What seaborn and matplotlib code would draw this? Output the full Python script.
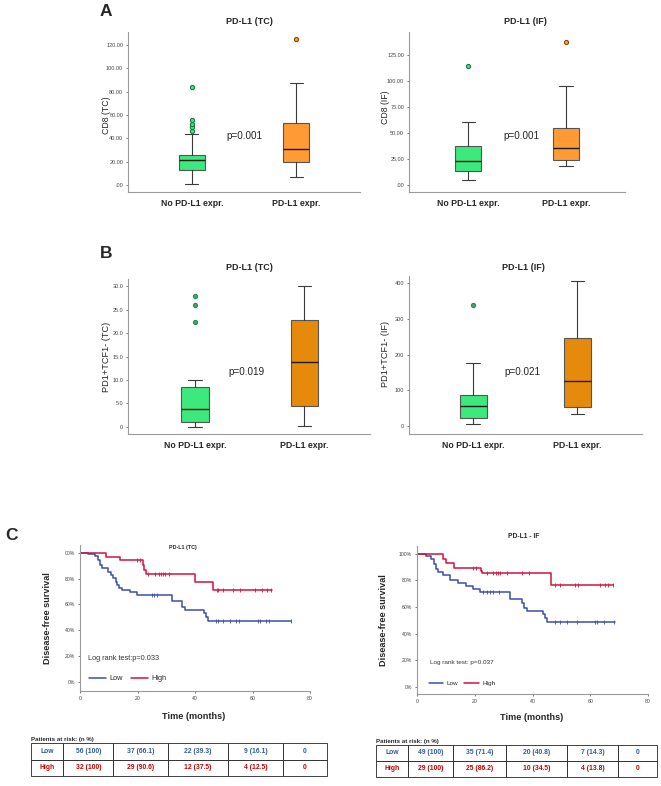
import numpy as np
import matplotlib
matplotlib.use("Agg")
import matplotlib.pyplot as plt
import seaborn as sns

# ==========================================
# THEME
# ==========================================
sns.set_theme(style="ticks")
plt.rcParams['font.family'] = ['Liberation Sans', 'DejaVu Sans']
plt.rcParams['axes.edgecolor'] = '#9A9A9A'
plt.rcParams['axes.linewidth'] = 0.8

GREEN = "#3DE87C"
ORANGE_A = "#FF9A35"
ORANGE_B = "#E68A0C"
BLUE = "#3A4FAE"
RED = "#D3123E"
TXT_BLUE = "#2F5C9B"
TXT_RED = "#C00000"

# ==========================================
# DATA
# ==========================================
groups = ["No PD-L1 expr.", "PD-L1 expr."]

# box stats: [whisker low, Q1, median, Q3, whisker high]
a_tc_stats = [[1.0, 13.0, 21.0, 25.4, 43.4], [7.0, 20.0, 30.9, 52.9, 87.4]]
a_tc_fliers = [[46.0, 49.5, 52.5, 55.5, 83.7], [124.9]]
a_if_stats = [[4.8, 13.1, 22.7, 37.2, 60.6], [18.0, 24.4, 35.3, 55.1, 95.2]]
a_if_fliers = [[114.1], [137.5]]
b_tc_stats = [[0.0, 0.9, 3.8, 8.5, 9.9], [0.2, 4.4, 13.9, 22.9, 30.2]]
b_tc_fliers = [[22.3, 26.0, 28.0], []]
b_if_stats = [[5.6, 22.5, 55.3, 87.0, 175.0], [33.7, 52.5, 124.7, 245.5, 406.0]]
b_if_fliers = [[340.0], []]

a_tc_yticks = [0, 20, 40, 60, 80, 100, 120]
a_tc_ylabels = [".00", "20.00", "40.00", "60.00", "80.00", "100.00", "120.00"]
a_if_yticks = [0, 25, 50, 75, 100, 125]
a_if_ylabels = [".00", "25.00", "50.00", "75.00", "100.00", "125.00"]
b_tc_yticks = [0, 5, 10, 15, 20, 25, 30]
b_tc_ylabels = ["0", "5.0", "10.0", "15.0", "20.0", "25.0", "30.0"]
b_if_yticks = [0, 100, 200, 300, 400]
b_if_ylabels = ["0", "100", "200", "300", "400"]

# Kaplan-Meier curves (months, % disease-free)
c_tc_low_time = [0, 2.9, 5.2, 6.1, 7.0, 7.8, 9.9, 10.8, 11.6, 12.4, 13.0, 13.7, 14.5, 17.4,
                 19.7, 31.9, 35.4, 36.5, 43.1, 43.8, 44.6, 73.4]
c_tc_low_surv = [100, 98.9, 97.4, 94.3, 90.5, 87.9, 85.3, 82.7, 80.1, 77.6, 75.0, 72.4, 71.1, 69.8,
                 67.6, 63.0, 58.2, 55.7, 53.5, 50.5, 47.4, 47.4]
c_tc_low_cens = [24.9, 25.7, 26.7, 47.3, 48.1, 49.9, 52.2, 54.1, 55.4, 62.0, 62.6, 64.6, 65.9, 73.4]
c_tc_high_time = [0, 9.0, 13.9, 21.8, 22.4, 22.8, 40.0, 46.1, 66.7]
c_tc_high_surv = [100, 96.9, 94.1, 90.5, 86.6, 83.2, 77.6, 70.9, 70.9]
c_tc_high_cens = [19.9, 20.9, 23.8, 26.1, 27.6, 28.2, 29.0, 29.6, 31.1,
                  47.5, 48.1, 49.9, 53.3, 55.7, 60.9, 63.2, 64.9, 66.4]

c_if_low_time = [0, 3.0, 5.0, 5.9, 6.7, 7.3, 9.0, 11.3, 14.2, 17.1, 19.4, 21.8, 32.2, 36.2,
                 37.0, 38.2, 43.8, 44.3, 44.9, 68.6]
c_if_low_surv = [100, 98.0, 95.8, 92.5, 88.8, 86.3, 83.8, 80.0, 78.1, 75.6, 73.8, 71.3, 66.3, 63.1,
                 59.4, 56.9, 54.4, 51.4, 48.4, 48.4]
c_if_low_cens = [22.7, 24.3, 25.2, 26.4, 28.5, 47.8, 49.5, 51.9, 55.3, 61.7, 62.3, 64.6, 68.1]
c_if_high_time = [0, 9.0, 10.2, 12.7, 22.3, 22.6, 46.3, 67.8]
c_if_high_surv = [100, 96.3, 93.0, 89.5, 87.0, 85.5, 76.8, 76.8]
c_if_high_cens = [19.4, 20.6, 24.1, 26.4, 27.5, 28.1, 28.7, 31.0, 36.2, 38.9,
                  47.8, 49.5, 54.7, 55.9, 63.4, 65.2, 66.3, 67.8]

km_xticks = [0, 20, 40, 60, 80]
km_yticks = [0, 20, 40, 60, 80, 100]
tc_km_ylabels = ["0%", "20%", "40%", "60%", "80%", "00%"]
if_km_ylabels = ["0%", "20%", "40%", "60%", "80%", "100%"]

tc_risk = [["Low", "56 (100)", "37 (66.1)", "22 (39.3)", "9 (16.1)", "0"],
           ["High", "32 (100)", "29 (90.6)", "12 (37.5)", "4 (12.5)", "0"]]
if_risk = [["Low", "49 (100)", "35 (71.4)", "20 (40.8)", "7 (14.3)", "0"],
           ["High", "29 (100)", "25 (86.2)", "10 (34.5)", "4 (13.8)", "0"]]

# ==========================================
# FIGURE HELPERS (pixel layout)
# ==========================================
W, H = 661, 786
fig = plt.figure(figsize=(W / 100, H / 100), dpi=100)
fig.patch.set_facecolor("white")


def px_axes(x0, y0, x1, y1):
    return fig.add_axes([x0 / W, 1 - y1 / H, (x1 - x0) / W, (y1 - y0) / H])


def ftext(x, y, s, **kw):
    kw.setdefault("ha", "center")
    kw.setdefault("va", "center")
    fig.text(x / W, 1 - y / H, s, **kw)


def box_panel(rect, stats, fliers, faces, fl_faces, fl_edges, ylim, xlim,
              yticks, ylabels, width, ptext, ppos):
    ax = px_axes(*rect)
    bstats = [dict(whislo=s[0], q1=s[1], med=s[2], q3=s[3], whishi=s[4], fliers=f)
              for s, f in zip(stats, fliers)]
    res = ax.bxp(bstats, positions=[0, 1], widths=width, capwidths=width * 0.5,
                 patch_artist=True, manage_ticks=False,
                 boxprops=dict(edgecolor="#555555", linewidth=0.8),
                 medianprops=dict(color="#1A1A1A", linewidth=1.0),
                 whiskerprops=dict(color="#3A3A3A", linewidth=0.8),
                 capprops=dict(color="#3A3A3A", linewidth=0.8),
                 flierprops=dict(marker="o", markersize=3.0, markeredgewidth=0.8))
    for patch, c in zip(res["boxes"], faces):
        patch.set_facecolor(c)
    for fl, fc, ec in zip(res["fliers"], fl_faces, fl_edges):
        fl.set_markerfacecolor(fc)
        fl.set_markeredgecolor(ec)
    ax.set_xlim(xlim)
    ax.set_ylim(ylim)
    ax.set_yticks(yticks, ylabels)
    ax.set_xticks([0, 1], groups)
    ax.tick_params(axis="y", labelsize=4.0, length=1.5, width=0.5, pad=2, colors="#444444")
    ax.tick_params(axis="x", labelsize=6.3, length=0, pad=5)
    for lab in ax.get_xticklabels():
        lab.set_fontweight("bold")
    ax.text(ppos[0], ppos[1], ptext, ha="center", va="center", fontsize=7.1, color="#222222")
    sns.despine(ax=ax)
    return ax


def step_at(times, surv, t):
    idx = np.searchsorted(times, t, side="right") - 1
    return np.asarray(surv)[idx]


def km_panel(rect, curves, ylim, ylabels, legend_anchor, lr_text, lr_pos, fs):
    ax = px_axes(*rect)
    for time, surv, cens, color, label in curves:
        sns.lineplot(x=time, y=surv, ax=ax, color=color, linewidth=1.1,
                     drawstyle="steps-post", estimator=None, sort=False, label=label)
        ax.plot(cens, step_at(time, surv, cens), ls="", marker="|", markersize=3,
                markeredgewidth=0.6, color=color)
    ax.set_xlim(0, 80)
    ax.set_ylim(ylim)
    ax.set_xticks(km_xticks)
    ax.set_yticks(km_yticks, ylabels)
    ax.tick_params(labelsize=3.7, length=1.5, width=0.5, pad=2, colors="#444444")
    ax.set_xlabel("")
    ax.set_ylabel("")
    ax.legend(loc="lower left", bbox_to_anchor=legend_anchor, ncol=2, frameon=False,
              fontsize=fs, handlelength=2.3, handletextpad=0.5, columnspacing=1.0,
              borderpad=0, borderaxespad=0)
    ftext(lr_pos[0], lr_pos[1], lr_text, ha="left", fontsize=fs, color="#333333")
    sns.despine(ax=ax)
    return ax


def risk_table(rect, rows, widths, title, title_pos):
    ax = px_axes(*rect)
    ax.axis("off")
    tw = np.asarray(widths, dtype=float)
    tbl = ax.table(cellText=rows, cellLoc="center", colWidths=list(tw / tw.sum()),
                   bbox=[0, 0, 1, 1])
    tbl.auto_set_font_size(False)
    for (r, c), cell in tbl.get_celld().items():
        cell.set_edgecolor("#222222")
        cell.set_linewidth(0.6)
        col = TXT_BLUE if r == 0 else TXT_RED
        cell.get_text().set_color(col)
        cell.get_text().set_fontsize(4.9)
        cell.get_text().set_fontweight("bold")
        if c == 0:
            cell._loc = "left"
            cell.PAD = 0.12
    ftext(title_pos[0], title_pos[1], title, ha="left", fontsize=4.4, fontweight="bold")


# ==========================================
# PANEL A
# ==========================================
box_panel((128, 32, 360, 192), a_tc_stats, a_tc_fliers, [GREEN, ORANGE_A],
          [GREEN, ORANGE_A], ["#1E7A45", "#8A4A10"], (-6, 131), (-0.615, 1.615),
          a_tc_yticks, a_tc_ylabels, 0.25, "p=0.001", (0.5, 42))
box_panel((409, 32, 625, 192), a_if_stats, a_if_fliers, [GREEN, ORANGE_A],
          [GREEN, ORANGE_A], ["#1E7A45", "#8A4A10"], (-6.7, 147), (-0.607, 1.604),
          a_if_yticks, a_if_ylabels, 0.27, "p=0.001", (0.546, 47))
ftext(106, 12, "A", fontsize=12.5, fontweight="bold")
ftext(249, 21, "PD-L1 (TC)", fontsize=6.5, fontweight="bold")
ftext(525, 21, "PD-L1 (IF)", fontsize=6.5, fontweight="bold")
ftext(106, 115, "CD8 (TC)", fontsize=6.3, rotation=90)
ftext(385, 107, "CD8 (IF)", fontsize=6.3, rotation=90)

# ==========================================
# PANEL B
# ==========================================
box_panel((128, 279, 370, 434), b_tc_stats, b_tc_fliers, [GREEN, ORANGE_B],
          ["#3DAA6A", ORANGE_B], ["#2E8A55", "#8A4A10"], (-1.57, 31.6), (-0.613, 1.6),
          b_tc_yticks, b_tc_ylabels, 0.25, "p=0.019", (0.473, 11.8))
box_panel((409, 276, 642, 434), b_if_stats, b_if_fliers, [GREEN, ORANGE_B],
          ["#3DAA6A", ORANGE_B], ["#2E8A55", "#8A4A10"], (-23, 420.5), (-0.615, 1.62),
          b_if_yticks, b_if_ylabels, 0.257, "p=0.021", (0.47, 151.7))
ftext(106, 254, "B", fontsize=12.5, fontweight="bold")
ftext(249, 267, "PD-L1 (TC)", fontsize=6.5, fontweight="bold")
ftext(523, 267, "PD-L1 (IF)", fontsize=6.5, fontweight="bold")
ftext(106, 357, "PD1+TCF1- (TC)", fontsize=6.6, rotation=90)
ftext(385, 354, "PD1+TCF1- (IF)", fontsize=6.6, rotation=90)

# ==========================================
# PANEL C
# ==========================================
km_panel((80, 545, 310, 691),
         [(c_tc_low_time, c_tc_low_surv, c_tc_low_cens, BLUE, "Low"),
          (c_tc_high_time, c_tc_high_surv, c_tc_high_cens, RED, "High")],
         (-7, 106), tc_km_ylabels, (0.04, 0.06), "Log rank test:p=0.033", (87.7, 659), 5.3)
km_panel((417, 546, 648, 694),
         [(c_if_low_time, c_if_low_surv, c_if_low_cens, BLUE, "Low"),
          (c_if_high_time, c_if_high_surv, c_if_high_cens, RED, "High")],
         (-5.2, 105.7), if_km_ylabels, (0.05, 0.055), "Log rank test: p=0.037", (430, 662.7), 4.6)
ftext(11, 535, "C", fontsize=12.5, fontweight="bold")
ftext(183, 548, "PD-L1 (TC)", fontsize=3.9, fontweight="bold")
ftext(524, 537, "PD-L1 - IF", fontsize=4.8, fontweight="bold")
ftext(47, 618, "Disease-free survival", fontsize=6.6, fontweight="bold", rotation=90)
ftext(383, 620, "Disease-free survival", fontsize=6.6, fontweight="bold", rotation=90)
ftext(194, 716.5, "Time (months)", fontsize=6.6, fontweight="bold")
ftext(532, 718, "Time (months)", fontsize=6.6, fontweight="bold")

risk_table((30.7, 743.3, 326.7, 775.7), tc_risk, [32.6, 50, 54.4, 60.6, 55, 43.4],
           "Patients at risk: (n %)", (31, 739))
risk_table((376, 745, 656.7, 776.7), if_risk, [31.7, 45.6, 52.4, 61.6, 51, 38.4],
           "Patients at risk: (n %)", (376, 741))

fig.savefig("out.png", dpi=100, facecolor="white")
plt.close(fig)
